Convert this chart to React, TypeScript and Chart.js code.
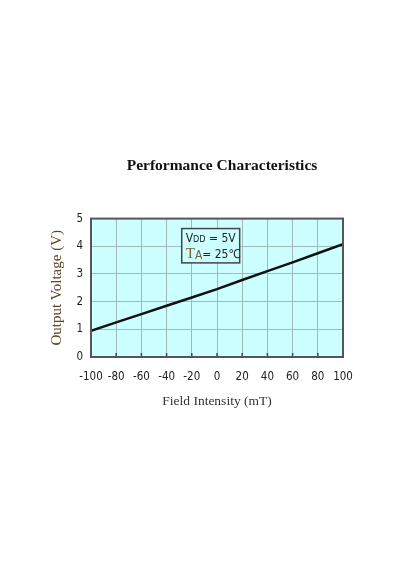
import { useEffect, useRef } from "react";
import { Chart, registerables } from "chart.js";

Chart.register(...registerables);

const chartTitle = "Performance Characteristics";
const xAxisTitle = "Field Intensity (mT)";
const yAxisTitle = "Output Voltage (V)";

const fieldIntensity = [-100, -80, -60, -40, -20, 0, 20, 40, 60, 80, 100];
const outputVoltage = [0.95, 1.25, 1.55, 1.85, 2.15, 2.45, 2.78, 3.1, 3.42, 3.75, 4.08];

const xTickValues = [-100, -80, -60, -40, -20, 0, 20, 40, 60, 80, 100];
const yTickValues = [0, 1, 2, 3, 4, 5];

// annotation box extent in data units
const noteX = [-28, 18];
const noteY = [3.4, 4.64];
const noteLine1 = ["V", "DD", " = 5V"];
const noteLine2 = ["T", "A", "= 25℃"];

const TICK_FONT = '"Liberation Sans Narrow", "DejaVu Sans Condensed", sans-serif';
const SERIF = '"Liberation Serif", "Times New Roman", serif';

const plotBg = {
  id: "plotBg",
  beforeDraw(chart: any) {
    const { ctx, chartArea: a } = chart;
    ctx.save();
    ctx.fillStyle = "#ccffff";
    ctx.fillRect(a.left, a.top, a.right - a.left, a.bottom - a.top);
    ctx.restore();
  },
};

const frameAndNote = {
  id: "frameAndNote",
  afterDatasetsDraw(chart: any) {
    const { ctx, chartArea: a, scales } = chart;
    const xs = scales.x;
    const ys = scales.y;
    ctx.save();
    // bottom tick marks inside plot
    ctx.strokeStyle = "#444";
    ctx.lineWidth = 1.5;
    xTickValues.forEach((v) => {
      const px = xs.getPixelForValue(v);
      ctx.beginPath();
      ctx.moveTo(px, a.bottom);
      ctx.lineTo(px, a.bottom - 4);
      ctx.stroke();
    });
    // frame
    ctx.strokeStyle = "#555";
    ctx.lineWidth = 2;
    ctx.strokeRect(a.left, a.top, a.right - a.left, a.bottom - a.top);

    // note box
    const x0 = xs.getPixelForValue(noteX[0]);
    const x1 = xs.getPixelForValue(noteX[1]);
    const y0 = ys.getPixelForValue(noteY[1]);
    const y1 = ys.getPixelForValue(noteY[0]);
    ctx.fillStyle = "#ccffff";
    ctx.fillRect(x0, y0, x1 - x0, y1 - y0);
    ctx.strokeStyle = "#444";
    ctx.lineWidth = 1.5;
    ctx.strokeRect(x0, y0, x1 - x0, y1 - y0);

    ctx.textBaseline = "alphabetic";
    ctx.textAlign = "left";
    // line 1
    let tx = x0 + 4;
    let ty = y0 + 13;
    ctx.fillStyle = "#222";
    ctx.font = `12px ${TICK_FONT}`;
    ctx.fillText(noteLine1[0], tx, ty);
    tx += ctx.measureText(noteLine1[0]).width;
    ctx.font = `9px ${TICK_FONT}`;
    ctx.fillText(noteLine1[1], tx, ty);
    tx += ctx.measureText(noteLine1[1]).width;
    ctx.font = `12px ${TICK_FONT}`;
    ctx.fillText(noteLine1[2], tx, ty);
    // line 2
    tx = x0 + 4;
    ty = y0 + 29;
    ctx.fillStyle = "#7a6030";
    ctx.font = `15px ${SERIF}`;
    ctx.fillText(noteLine2[0], tx, ty);
    tx += ctx.measureText(noteLine2[0]).width;
    ctx.font = `12px ${TICK_FONT}`;
    ctx.fillText(noteLine2[1], tx, ty + 1);
    tx += ctx.measureText(noteLine2[1]).width;
    ctx.fillStyle = "#222";
    ctx.font = `12px ${TICK_FONT}`;
    ctx.fillText(noteLine2[2], tx, ty);
    ctx.restore();
  },
};

export default function App() {
  const ref = useRef<HTMLCanvasElement | null>(null);

  useEffect(() => {
    if (!ref.current) return;
    const chart = new Chart(ref.current, {
      type: "line",
      data: {
        datasets: [
          {
            data: fieldIntensity.map((x, i) => ({ x, y: outputVoltage[i] })),
            borderColor: "#111",
            borderWidth: 2.5,
            pointRadius: 0,
            tension: 0,
            fill: false,
          },
        ],
      },
      options: {
        responsive: false,
        animation: false,
        layout: { padding: { top: 150, left: 44, right: 0, bottom: 160 } },
        plugins: {
          legend: { display: false },
          tooltip: { enabled: false },
          title: {
            display: true,
            text: chartTitle,
            color: "#111",
            font: { family: SERIF, size: 15.5, weight: "bold" },
            padding: { top: 7, bottom: 43 },
          },
        },
        scales: {
          x: {
            type: "linear",
            min: -100,
            max: 100,
            afterBuildTicks: (s: any) => {
              s.ticks = xTickValues.map((v) => ({ value: v }));
            },
            grid: { color: "#a3b8b8", lineWidth: 1, drawTicks: false },
            border: { display: false },
            ticks: {
              color: "#222",
              font: { family: TICK_FONT, size: 11.5 },
              padding: 13,
              maxRotation: 0,
              autoSkip: false,
            },
            title: {
              display: true,
              text: xAxisTitle,
              color: "#333",
              font: { family: SERIF, size: 13.5 },
              padding: { top: -3, bottom: 0 },
            },
          },
          y: {
            type: "linear",
            min: 0,
            max: 5,
            afterBuildTicks: (s: any) => {
              s.ticks = yTickValues.map((v) => ({ value: v }));
            },
            afterFit: (s: any) => {
              s.width = 47;
            },
            grid: { color: "#a3b8b8", lineWidth: 1, drawTicks: false },
            border: { display: false },
            ticks: {
              color: "#222",
              font: { family: TICK_FONT, size: 11.5 },
              padding: 8,
            },
            title: {
              display: true,
              text: yAxisTitle,
              color: "#5c4424",
              font: { family: SERIF, size: 15 },
              padding: { top: 4, bottom: 0 },
            },
          },
          y2: {
            type: "linear",
            position: "right",
            display: true,
            grid: { display: false, drawTicks: false },
            border: { display: false },
            ticks: { display: false },
            afterFit: (s: any) => {
              s.width = 57;
            },
          },
        },
      } as any,
      plugins: [plotBg, frameAndNote],
    });
    return () => chart.destroy();
  }, []);

  return (
    <div style={{ position: "absolute", left: 0, top: 0, width: 400, height: 570, background: "#fff" }}>
      <canvas ref={ref} width={400} height={570} />
    </div>
  );
}
